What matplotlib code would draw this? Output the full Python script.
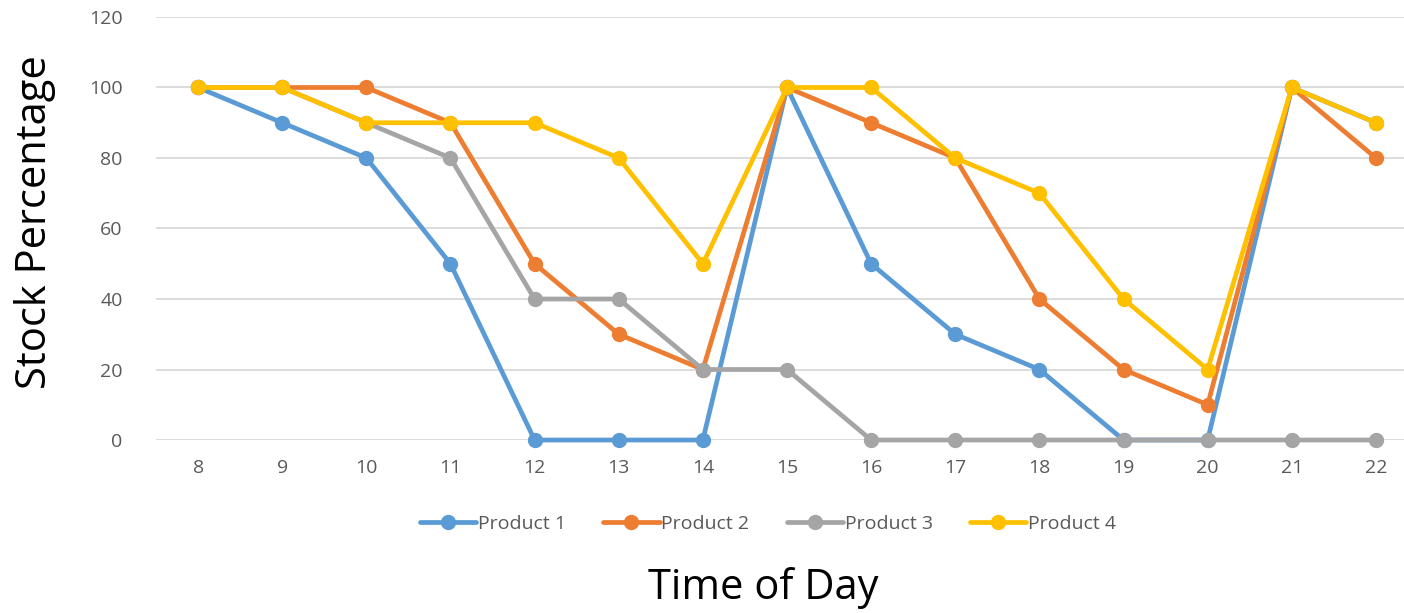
import matplotlib.pyplot as plt

plt.rcParams['font.family'] = ['Open Sans', 'DejaVu Sans']

# ---- Data ----
hours = [8, 9, 10, 11, 12, 13, 14, 15, 16, 17, 18, 19, 20, 21, 22]
product_1 = [100, 90, 80, 50, 0, 0, 0, 100, 50, 30, 20, 0, 0, 100, 90]
product_2 = [100, 100, 100, 90, 50, 30, 20, 100, 90, 80, 40, 20, 10, 100, 80]
product_3 = [100, 100, 90, 80, 40, 40, 20, 20, 0, 0, 0, 0, 0, 0, 0]
product_4 = [100, 100, 90, 90, 90, 80, 50, 100, 100, 80, 70, 40, 20, 100, 90]
series_names = ['Product 1', 'Product 2', 'Product 3', 'Product 4']
colors = ['#5B9BD5', '#ED7D31', '#A5A5A5', '#FFC000']

# ---- Plot ----
fig = plt.figure(figsize=(14.04, 6.13), dpi=100)
ax = fig.add_axes([156 / 1404, 0.2822, (1418 - 156) / 1404, 0.9723 - 0.2822])

pos = list(range(len(hours)))
for vals, name, c in zip([product_1, product_2, product_3, product_4], series_names, colors):
    ax.plot(pos, vals, color=c, lw=3.4, marker='o', markersize=10,
            solid_capstyle='round', solid_joinstyle='round', label=name,
            clip_on=False)

ax.set_xlim(-0.5, len(hours) - 0.5)
ax.set_ylim(0, 120)
ax.set_xticks(pos)
ax.set_xticklabels([str(h) for h in hours])
ax.set_yticks(range(0, 121, 20))
ax.tick_params(axis='both', length=0, labelsize=14, colors='#595959')
ax.tick_params(axis='x', pad=14)
ax.tick_params(axis='y', pad=24)
ax.grid(axis='y', color='#D9D9D9', lw=1.3)
ax.set_axisbelow(True)
for s in ax.spines.values():
    s.set_visible(False)

# axis titles
fig.text(35 / 1404, 1 - 222 / 613, 'Stock Percentage', fontsize=30,
         rotation=90, ha='center', va='center')
fig.text(763 / 1404, 1 - 588 / 613, 'Time of Day', fontsize=30, ha='center', va='center')

fig.legend(loc='center', bbox_to_anchor=(768 / 1404, 1 - 524 / 613), ncol=4,
           frameon=False, fontsize=14, handlelength=2.9, handletextpad=0.1,
           columnspacing=1.9, labelcolor='#595959')

fig.savefig('out.png', dpi=100)
